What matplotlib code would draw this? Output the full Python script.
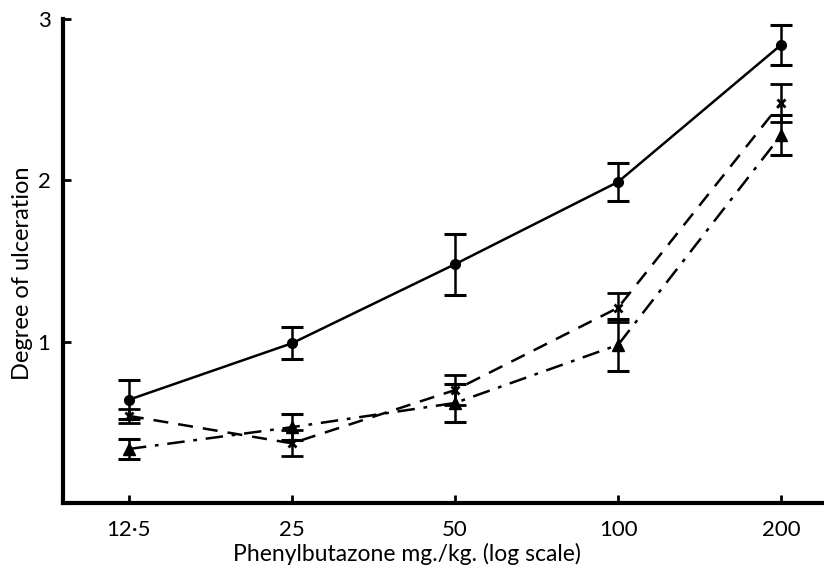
import numpy as np
import matplotlib.pyplot as plt
from matplotlib.ticker import FixedLocator, NullLocator

plt.rcParams['font.family'] = ['Lato', 'DejaVu Sans']

# Dose (mg/kg) and degree of ulceration for the three series
doses = [12.5, 25, 50, 100, 200]
dose_labels = ['12·5', '25', '50', '100', '200']

circle_mean = [0.64, 0.99, 1.48, 1.99, 2.84]
circle_err = [0.12, 0.10, 0.19, 0.12, 0.125]

cross_mean = [0.54, 0.37, 0.70, 1.21, 2.48]
cross_err = [0.045, 0.08, 0.095, 0.09, 0.12]

tri_mean = [0.335, 0.47, 0.62, 0.98, 2.28]
tri_err = [0.06, 0.08, 0.12, 0.16, 0.125]

fig = plt.figure(figsize=(8.24, 5.72), dpi=100)
ax = fig.add_axes([0.0765, 0.1206, 0.9235, 0.8462])

err_kw = dict(ecolor='black', elinewidth=1.8, capsize=8, capthick=2.2, color='black')
ax.errorbar(doses, circle_mean, yerr=circle_err, fmt='o', linestyle='-', linewidth=1.8,
            markersize=7, **err_kw)
ax.errorbar(doses, cross_mean, yerr=cross_err, fmt='x', linestyle=(0, (6, 4)), linewidth=1.8,
            markersize=6, markeredgewidth=2, **err_kw)
ax.errorbar(doses, tri_mean, yerr=tri_err, fmt='^', linestyle=(0, (7, 3.5, 1.5, 3.5)), linewidth=1.8,
            markersize=9, **err_kw)

ax.set_xscale('log')
ax.set_xlim(9.45, 240)
ax.set_ylim(0, 3)
ax.xaxis.set_major_locator(FixedLocator(doses))
ax.xaxis.set_minor_locator(NullLocator())
ax.set_xticklabels(dose_labels)
ax.set_yticks([1, 2, 3])
ax.set_yticklabels(['1', '2', '3'])

for s in ['top', 'right']:
    ax.spines[s].set_visible(False)
for s in ['left', 'bottom']:
    ax.spines[s].set_linewidth(3)

ax.tick_params(axis='both', direction='in', length=6, width=2, labelsize=16)
ax.tick_params(axis='x', pad=12)
ax.tick_params(axis='y', pad=9)

ax.set_xlabel('Phenylbutazone mg./kg. (log scale)', fontsize=16.5)
ax.xaxis.set_label_coords(0.452, -0.082)
ax.set_ylabel('Degree of ulceration', fontsize=17)
ax.yaxis.set_label_coords(-0.04, 0.475)

fig.savefig('out.png', dpi=100)
